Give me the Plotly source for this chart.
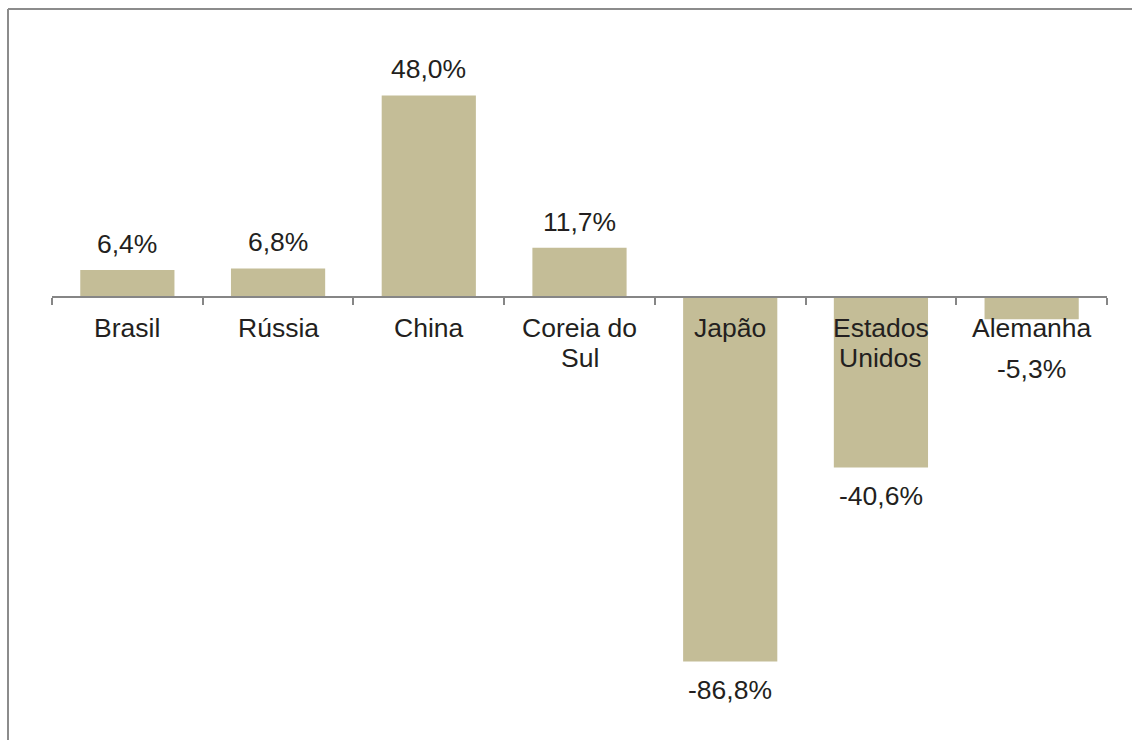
import plotly.graph_objects as go

categories = ["Brasil", "Rússia", "China", "Coreia do Sul", "Japão", "Estados Unidos", "Alemanha"]
tick_labels = ["Brasil", "Rússia", "China", "Coreia do<br>Sul", "Japão", "Estados<br>Unidos", "Alemanha"]
values = [6.4, 6.8, 48.0, 11.7, -86.8, -40.6, -5.3]
value_labels = ["6,4%", "6,8%", "48,0%", "11,7%", "-86,8%", "-40,6%", "-5,3%"]

BAR = "#C4BD97"
TXT = "#231F20"
GRID = "#868686"
FONT = "Liberation Sans, Arial, sans-serif"
FS = 26.5
LINE_H = 30

W, H = 1132, 740
L, R, T, B = 52, 25, 45, 23
YMIN, YMAX = -100, 60
pw, ph = W - L - R, H - T - B
zero_frac = (0 - YMIN) / (YMAX - YMIN)

fig = go.Figure(go.Bar(
    x=categories, y=values, marker=dict(color=BAR, line=dict(width=0)),
    hoverinfo="skip",
))

ann = []
for c, lab in zip(categories, tick_labels):
    for i, line in enumerate(lab.split("<br>")):
        ann.append(dict(x=c, y=0, xref="x", yref="y", text=line, showarrow=False,
                        yanchor="middle", yshift=-31 - i * LINE_H,
                        font=dict(size=FS, color=TXT, family=FONT)))
label_floor = -10.5
for c, v, lab in zip(categories, values, value_labels):
    if v >= 0:
        ann.append(dict(x=c, y=v, xref="x", yref="y", text=lab, showarrow=False,
                        yanchor="middle", yshift=26, font=dict(size=FS, color=TXT, family=FONT)))
    else:
        ann.append(dict(x=c, y=min(v, label_floor), xref="x", yref="y", text=lab, showarrow=False,
                        yanchor="middle", yshift=-28, font=dict(size=FS, color=TXT, family=FONT)))

# frame lines (left and top), in paper coordinates
fx = (8 - L) / pw
fy = (H - B - 9) / ph
shapes = [
    dict(type="line", xref="paper", yref="paper", x0=fx, x1=fx, y0=-0.1, y1=fy,
         line=dict(color="#8C8C8C", width=2)),
    dict(type="line", xref="paper", yref="paper", x0=fx, x1=1.1, y0=fy, y1=fy,
         line=dict(color="#8C8C8C", width=2)),
]

fig.update_layout(
    width=W, height=H,
    margin=dict(l=L, r=R, t=T, b=B),
    paper_bgcolor="white", plot_bgcolor="white",
    bargap=0.375, showlegend=False,
    annotations=ann, shapes=shapes,
    xaxis=dict(type="category", anchor="free", position=zero_frac,
               showline=True, linecolor=GRID, linewidth=2,
               ticks="outside", tickson="boundaries", ticklen=7, tickwidth=2, tickcolor=GRID,
               showticklabels=False, showgrid=False, zeroline=False, fixedrange=True),
    yaxis=dict(range=[YMIN, YMAX], visible=False, showgrid=False, zeroline=False, fixedrange=True),
)

fig.write_html("out.html", config={"displayModeBar": False},
               post_script="document.body.style.margin='0';document.body.style.overflow='hidden';")
